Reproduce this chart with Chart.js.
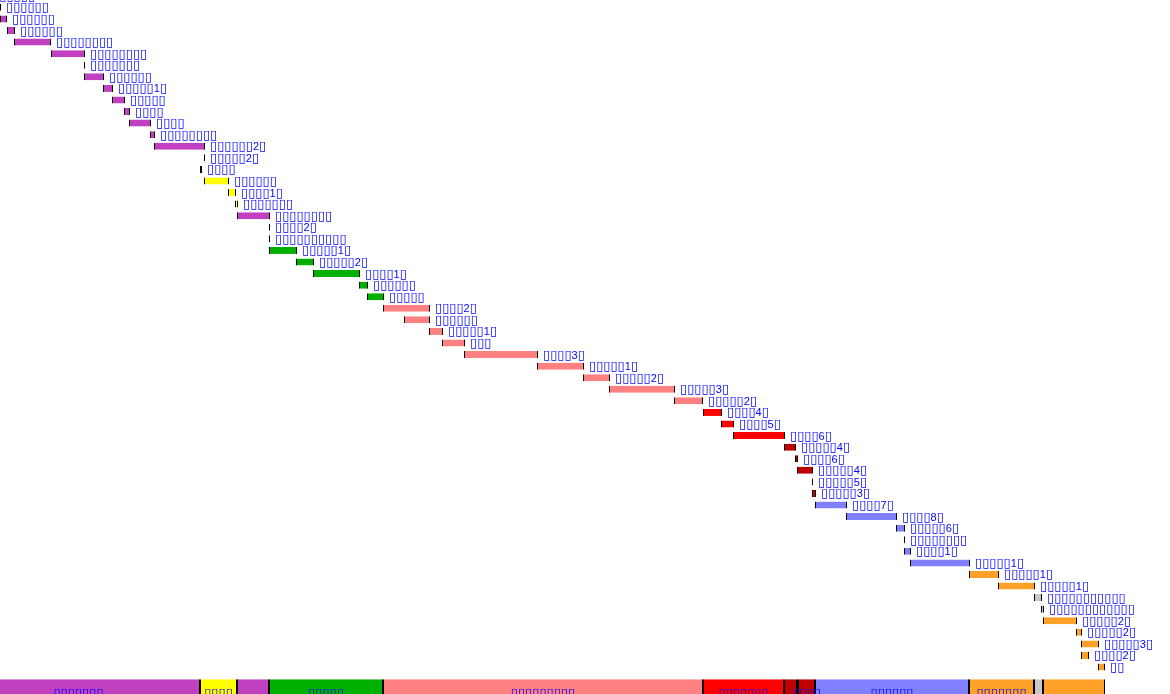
<!DOCTYPE html>
<html lang="zh">
<head>
  <meta charset="UTF-8">
  <title>Gantt</title>
  <script src="https://cdn.jsdelivr.net/npm/chart.js"></script>
  <style>
    html, body { margin: 0; padding: 0; background: #fff; overflow: hidden; }
    #gantt { position: absolute; left: 0; top: -10px; }
  </style>
</head>
<body>
  <canvas id="gantt" width="1170" height="706"></canvas>

  <script>
    // colores de las fases
    const phaseColors = ["#c040c0", "#ffff00", "#00b000", "#ff8080", "#ff0000", "#c00000", "#8080ff", "#ffa028", "#c8c8c8"];

    // tareas (una por fila)
    const taskStart = [-20, 0, 0, 7, 14, 51, 84, 84, 103, 112, 124, 129, 150, 154, 204, 200, 204, 228, 235, 237,
      269, 269, 269, 296, 313, 359, 367, 383, 404, 429, 442, 464, 537, 583, 609, 674, 703, 721, 733, 784,
      795, 797, 812, 812, 815, 846, 896, 904, 904, 910, 969, 998, 1034, 1041, 1043, 1076, 1081, 1081, 1098];
    const taskEnd = [-5, 1, 7, 15, 51, 85, 85, 104, 113, 125, 130, 151, 155, 205, 205, 202, 229, 236, 238, 270,
      270, 270, 297, 314, 360, 368, 384, 430, 430, 443, 465, 538, 584, 610, 675, 703, 722, 734, 785, 796,
      798, 813, 813, 816, 847, 897, 905, 905, 911, 970, 999, 1035, 1042, 1044, 1077, 1082, 1099, 1089, 1105];
    const taskPhase = [0, 0, 0, 0, 0, 0, 0, 0, 0, 0, 0, 0, 0, 0, 0, 0, 1, 1, 1, 0,
      0, 0, 2, 2, 2, 2, 2, 3, 3, 3, 3, 3, 3, 3, 3, 3, 4, 4, 4, 5,
      5, 5, 5, 5, 6, 6, 6, 6, 6, 6, 7, 7, 8, 8, 7, 7, 7, 7, 7];
    const taskLabels = ["▯▯▯▯▯▯▯", "▯▯▯▯▯▯", "▯▯▯▯▯▯", "▯▯▯▯▯▯", "▯▯▯▯▯▯▯▯", "▯▯▯▯▯▯▯▯", "▯▯▯▯▯▯▯", "▯▯▯▯▯▯",
      "▯▯▯▯▯1▯", "▯▯▯▯▯", "▯▯▯▯", "▯▯▯▯", "▯▯▯▯▯▯▯▯", "▯▯▯▯▯▯2▯", "▯▯▯▯▯2▯", "▯▯▯▯",
      "▯▯▯▯▯▯", "▯▯▯▯1▯", "▯▯▯▯▯▯▯", "▯▯▯▯▯▯▯▯", "▯▯▯▯2▯", "▯▯▯▯▯▯▯▯▯▯", "▯▯▯▯▯1▯", "▯▯▯▯▯2▯",
      "▯▯▯▯1▯", "▯▯▯▯▯▯", "▯▯▯▯▯", "▯▯▯▯2▯", "▯▯▯▯▯▯", "▯▯▯▯▯1▯", "▯▯▯", "▯▯▯▯3▯",
      "▯▯▯▯▯1▯", "▯▯▯▯▯2▯", "▯▯▯▯▯3▯", "▯▯▯▯▯2▯", "▯▯▯▯4▯", "▯▯▯▯5▯", "▯▯▯▯6▯", "▯▯▯▯▯4▯",
      "▯▯▯▯6▯", "▯▯▯▯▯4▯", "▯▯▯▯▯5▯", "▯▯▯▯▯3▯", "▯▯▯▯7▯", "▯▯▯▯8▯", "▯▯▯▯▯6▯", "▯▯▯▯▯▯▯▯",
      "▯▯▯▯1▯", "▯▯▯▯▯1▯", "▯▯▯▯▯1▯", "▯▯▯▯▯1▯", "▯▯▯▯▯▯▯▯▯▯▯", "▯▯▯▯▯▯▯▯▯▯▯▯", "▯▯▯▯▯2▯", "▯▯▯▯▯2▯",
      "▯▯▯▯▯3▯", "▯▯▯▯2▯", "▯▯"];

    // franja de fases abajo
    const stripStart = [-43, 200, 237, 269, 383, 703, 784, 797, 798, 815, 969, 1034, 1043];
    const stripEnd = [200, 237, 269, 383, 703, 784, 797, 798, 815, 969, 1034, 1043, 1105];
    const stripPhase = [0, 1, 0, 2, 3, 4, 5, 5, 5, 6, 7, 8, 7];
    const stripLabels = ["▯▯▯▯▯▯▯", "▯▯▯▯", "", "▯▯▯▯▯", "▯▯▯▯▯▯▯▯▯", "▯▯▯▯▯▯▯", "", "", "▯▯▯▯", "▯▯▯▯▯▯", "▯▯▯▯▯▯▯", "", ""];

    const rowCount = taskLabels.length + 2;
    const stripRow = rowCount - 1;
    const rows = Array.from({ length: rowCount }, (_, i) => String(i));

    const datasets = [{
      data: rows.map((_, i) => i < taskStart.length ? [taskStart[i], taskEnd[i]] : null),
      backgroundColor: taskPhase.map(p => phaseColors[p]),
      barThickness: 7
    }];
    stripStart.forEach((s, k) => {
      const data = rows.map(() => null);
      data[stripRow] = [s, stripEnd[k]];
      datasets.push({ data, backgroundColor: phaseColors[stripPhase[k]], barThickness: 22 });
    });
    datasets.forEach(d => {
      d.borderColor = "#000";
      d.borderWidth = { left: 1, right: 1, top: 0, bottom: 0 };
      d.borderSkipped = false;
      d.inflateAmount = 0;
      d.grouped = false;
    });

    // cajas en DejaVu, cifras en Liberation
    const boxFont = "13px 'DejaVu Sans'";
    const digitFont = "11px 'Liberation Sans'";

    function drawLabel(ctx, txt, x, y, centered) {
      const runs = txt.split(/(\d+)/).filter(r => r.length);
      const widths = runs.map(r => {
        ctx.font = /\d/.test(r) ? digitFont : boxFont;
        return ctx.measureText(r).width;
      });
      let cx = centered ? x - widths.reduce((a, b) => a + b, 0) / 2 : x;
      runs.forEach((r, i) => {
        ctx.font = /\d/.test(r) ? digitFont : boxFont;
        ctx.fillText(r, cx, y);
        cx += widths[i];
      });
    }

    // textos azules al lado de cada barra
    const etiquetas = {
      id: "etiquetas",
      afterDatasetsDraw(chart) {
        const ctx = chart.ctx;
        ctx.save();
        ctx.fillStyle = "#0000ff";
        ctx.textBaseline = "alphabetic";
        ctx.textAlign = "left";
        chart.getDatasetMeta(0).data.forEach((bar, i) => {
          if (i < taskLabels.length) drawLabel(ctx, taskLabels[i], bar.x + 5, bar.y + 4, false);
        });
        stripLabels.forEach((txt, k) => {
          if (!txt) return;
          const bar = chart.getDatasetMeta(k + 1).data[stripRow];
          drawLabel(ctx, txt, (bar.x + bar.base) / 2, bar.y + 7, true);
        });
        ctx.restore();
      }
    };

    new Chart(document.getElementById("gantt"), {
      type: "bar",
      data: { labels: rows, datasets },
      options: {
        indexAxis: "y",
        responsive: false,
        animation: false,
        devicePixelRatio: 1,
        layout: { padding: 0 },
        plugins: { legend: { display: false }, tooltip: { enabled: false } },
        scales: {
          x: { type: "linear", min: 0, max: 1170, display: false },
          y: { display: false, offset: true }
        }
      },
      plugins: [etiquetas]
    });
  </script>
</body>
</html>
